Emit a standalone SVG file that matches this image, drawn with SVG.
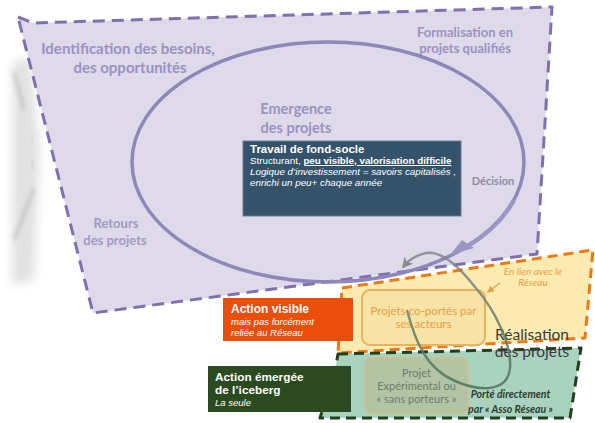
<svg xmlns="http://www.w3.org/2000/svg" width="595" height="423" viewBox="0 0 595 423">
<defs>
<style>
.lbl{font-family:Lato,"Open Sans",sans-serif;font-weight:bold;fill:#9b92c2}
.ar{font-family:"Liberation Sans",Arial,sans-serif}
.wt{fill:#ffffff}
</style>
<filter id="blur" x="-50%" y="-20%" width="200%" height="140%"><feGaussianBlur stdDeviation="5"/></filter>
<filter id="blur2" x="-50%" y="-20%" width="200%" height="140%"><feGaussianBlur stdDeviation="2"/></filter>
<linearGradient id="loopg" gradientUnits="userSpaceOnUse" x1="0" y1="250" x2="0" y2="390">
<stop offset="0" stop-color="#8a8a8a"/>
<stop offset="1" stop-color="#4a7358"/>
</linearGradient>
<marker id="gh" viewBox="0 0 10 10" refX="7" refY="5" markerWidth="4.5" markerHeight="4.5" orient="auto" markerUnits="strokeWidth">
<path d="M0,0 L10,5 L0,10 L3,5 Z" fill="#8a8a8a"/>
</marker>
<marker id="oh" viewBox="0 0 10 10" refX="8" refY="5" markerWidth="7" markerHeight="7" orient="auto" markerUnits="userSpaceOnUse">
<path d="M0,0 L10,5 L0,10 Z" fill="#e9a24a"/>
</marker>
</defs>
<rect width="595" height="423" fill="#ffffff"/>

<g id="shadow">
<path d="M13,62 L30,58 L40,150 L34,280 L12,285 Z" fill="#e2e2e2" filter="url(#blur)"/>
<path d="M14,72 L24,110" stroke="#a8a8a8" stroke-width="3" stroke-opacity="0.6" filter="url(#blur2)"/>
<path d="M33,136 L33,142 M32,160 L32,170" stroke="#b0b0b0" stroke-width="2" stroke-opacity="0.6" filter="url(#blur2)"/>
<path d="M34,188 L14,240" stroke="#a8a8a8" stroke-width="3" stroke-opacity="0.6" filter="url(#blur2)"/>
</g>

<g id="besoins-zone">
<polygon points="18,17 33,23 552,7 537,254 93,313" fill="#dedae9" stroke="#7e71ad" stroke-width="3" stroke-dasharray="12,7" stroke-linejoin="round"/>
<ellipse cx="328" cy="162" rx="196" ry="120" fill="none" stroke="#8f86ba" stroke-width="3.5"/>
<text class="lbl" x="128" y="54" font-size="15" text-anchor="middle">Identification des besoins,</text>
<text class="lbl" x="130" y="73" font-size="15" text-anchor="middle">des opportunités</text>
<text class="lbl" x="465" y="37" font-size="13" text-anchor="middle">Formalisation en</text>
<text class="lbl" x="465" y="53" font-size="13" text-anchor="middle">projets qualifiés</text>
<text class="lbl" x="296" y="114" font-size="14.5" text-anchor="middle">Emergence</text>
<text class="lbl" x="296" y="133" font-size="14.5" text-anchor="middle">des projets</text>
<text class="lbl" x="493" y="185" font-size="11" text-anchor="middle" style="fill:#8f8aa6">Décision</text>
<text class="lbl" x="116" y="228" font-size="13" text-anchor="middle" style="fill:#a29bc6">Retours</text>
<text class="lbl" x="115" y="245" font-size="13" text-anchor="middle" style="fill:#a29bc6">des projets</text>
</g>

<g id="fond-socle">
<rect x="243" y="141" width="218" height="75" fill="#35526b" stroke="#6b7f95" stroke-width="1"/>
<text class="ar wt" x="250" y="153" font-size="11.5" font-weight="bold">Travail de fond-socle</text>
<text class="ar wt" x="250" y="164" font-size="9.8">Structurant, <tspan font-weight="bold" text-decoration="underline">peu visible, valorisation difficile</tspan></text>
<text class="ar wt" x="250" y="175" font-size="9.8" font-style="italic">Logique d’investissement = savoirs capitalisés ,</text>
<text class="ar wt" x="250" y="186" font-size="9.8" font-style="italic">enrichi un peu+ chaque année</text>
</g>

<g id="realisation-visible">
<polygon points="342,288 593,250 585,338 338,353" fill="#fcebb1" stroke="#ec7a12" stroke-width="3" stroke-dasharray="10,6" stroke-linejoin="round"/>
</g>
<g id="realisation-emergee">
<polygon points="338,354 581,348 570,418 320,418 336,365" fill="#a9d3bf" stroke="#243f1c" stroke-width="3" stroke-dasharray="10,6" stroke-linejoin="round"/>
</g>

<g id="action-visible">
<rect x="223" y="298" width="130" height="43" fill="#e94e0b"/>
<text class="ar wt" x="231" y="313" font-size="12" font-weight="bold">Action visible</text>
<text class="ar wt" x="231" y="325" font-size="9.5" font-style="italic">mais pas forcément</text>
<text class="ar wt" x="231" y="335.5" font-size="9.5" font-style="italic">reliée au Réseau</text>
</g>

<g id="action-emergee">
<rect x="208" y="366" width="143" height="46" fill="#2c4a1f"/>
<text class="ar wt" x="215" y="380.5" font-size="11.8" font-weight="bold">Action émergée</text>
<text class="ar wt" x="215" y="394" font-size="11.8" font-weight="bold">de l’iceberg</text>
<text class="ar wt" x="215" y="406" font-size="9.5" font-style="italic">La seule</text>
</g>

<g id="projets-coportes">
<rect x="362" y="290" width="123" height="55" rx="8" fill="#f8e3a7" stroke="#ebb25e" stroke-width="2"/>
<text x="423.5" y="315" font-family="Lato,'Open Sans',sans-serif" font-size="11.5" fill="#e79f45" text-anchor="middle">Projets co-portés par</text>
<text x="423.5" y="328" font-family="Lato,'Open Sans',sans-serif" font-size="11.5" fill="#e79f45" text-anchor="middle">ses acteurs</text>
</g>

<g id="projet-experimental">
<rect x="365" y="358" width="103" height="55" rx="7" fill="#b3c4a5" stroke="#d1bd8a" stroke-width="1.5"/>
<text x="416.5" y="377" font-family="Lato,'Open Sans',sans-serif" font-size="11" fill="#6b7e6a" text-anchor="middle">Projet</text>
<text x="416.5" y="389.5" font-family="Lato,'Open Sans',sans-serif" font-size="11" fill="#6b7e6a" text-anchor="middle">Expérimental ou</text>
<text x="416.5" y="403" font-family="Lato,'Open Sans',sans-serif" font-size="11" fill="#6b7e6a" text-anchor="middle">« sans porteurs »</text>
</g>

<g id="annotations">
<text x="533" y="275" font-family="Lato,'Open Sans',sans-serif" font-size="10" font-style="italic" fill="#e79f45" text-anchor="middle">En lien avec le</text>
<text x="533" y="286" font-family="Lato,'Open Sans',sans-serif" font-size="10" font-style="italic" fill="#e79f45" text-anchor="middle">Réseau</text>
<text x="532" y="340" font-family="Lato,'Open Sans',sans-serif" font-size="15.5" fill="#3a3a3a" text-anchor="middle">Réalisation</text>
<text x="532" y="357" font-family="Lato,'Open Sans',sans-serif" font-size="15.5" fill="#3a3a3a" text-anchor="middle">des projets</text>
<text x="510.5" y="398" font-family="Lato,'Open Sans',sans-serif" font-size="10.5" font-style="italic" font-weight="bold" fill="#2f3d30" text-anchor="middle">Porté directement</text>
<text x="510.5" y="413" font-family="Lato,'Open Sans',sans-serif" font-size="10.5" font-style="italic" font-weight="bold" fill="#2f3d30" text-anchor="middle">par « Asso Réseau »</text>
</g>

<g id="connectors">
<path d="M514,200 A196,120 0 0 1 466,247" fill="none" stroke="#9d95c5" stroke-width="4.5"/>
<polygon points="450,255 462,240 474,248" fill="#9d95c5"/>
<path d="M407,310 C415,340 425,368 455,381 C480,392 508,392 510,368 C512,345 495,310 475,287 C460,268 442,250 426,253 C416,255 409,260 404,266" fill="none" stroke="url(#loopg)" stroke-width="2.5" stroke-opacity="0.85" marker-end="url(#gh)"/>
<line x1="500" y1="283" x2="488" y2="292" stroke="#e9a24a" stroke-width="1.3" marker-end="url(#oh)"/>
</g>
</svg>
